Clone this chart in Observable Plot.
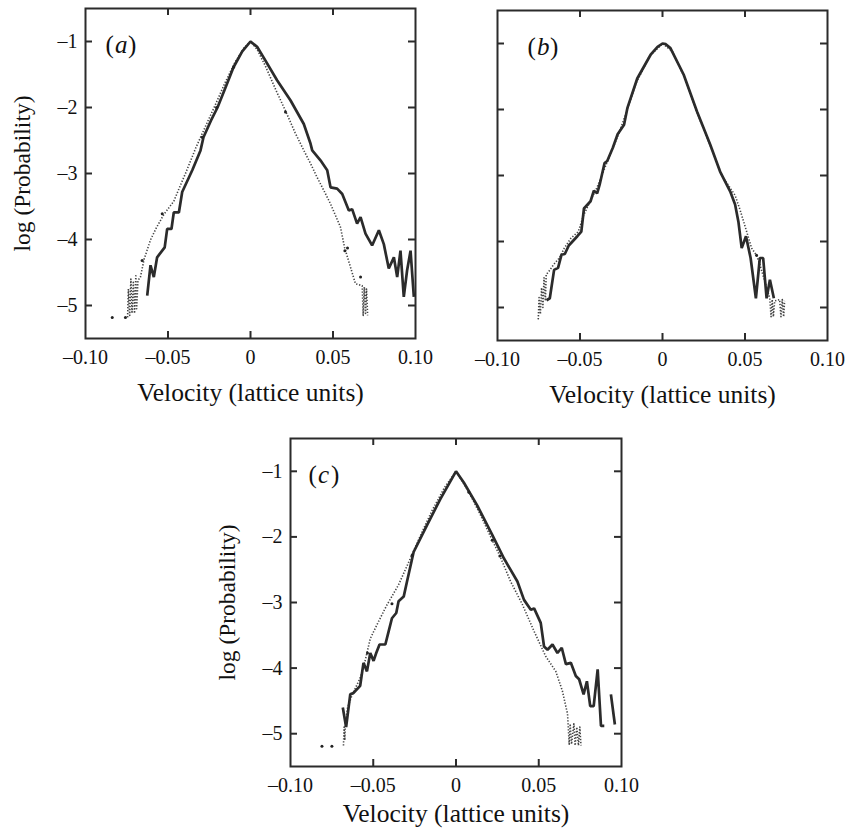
<!DOCTYPE html>
<html><head><meta charset="utf-8">
<script src="https://cdn.jsdelivr.net/npm/d3@7"></script>
<script src="https://cdn.jsdelivr.net/npm/@observablehq/plot@0.6"></script>
<style>
body{margin:0;background:#fff;}
#root{position:relative;width:850px;height:833px;background:#fff;overflow:hidden;}
#root > div{position:absolute;}
#root svg{overflow:visible;}
</style></head><body><div id="root"></div>
<script>
// ---- axis ticks ----
const xTicks = [-0.1, -0.05, 0, 0.05, 0.1];
const xTickLabels = ["\u20130.10", "\u20130.05", "0", "0.05", "0.10"];
const yTicks = [-1, -2, -3, -4, -5];
const yTickLabels = ["\u20131", "\u20132", "\u20133", "\u20134", "\u20135"];
const xLabel = "Velocity (lattice units)";
const yLabel = "log (Probability)";
const panelLetters = ["a", "b", "c"];

// ---- panel (a) ----
const aSolid = [[-0.0626,-4.85],[-0.0606,-4.39],[-0.0586,-4.57],[-0.0566,-4.27],[-0.052,-4.12],[-0.0505,-3.84],[-0.0479,-3.84],[-0.0465,-3.59],[-0.0434,-3.59],[-0.0414,-3.28],[-0.0353,-2.95],[-0.0303,-2.65],[-0.0285,-2.45],[-0.024,-2.2],[-0.020,-2.0],[-0.0155,-1.72],[-0.0103,-1.39],[-0.005,-1.15],[0,-1.0],[0.004,-1.08],[0.0079,-1.24],[0.0162,-1.59],[0.0242,-1.89],[0.0323,-2.25],[0.0364,-2.55],[0.0374,-2.65],[0.0424,-2.80],[0.0465,-2.95],[0.0485,-3.21],[0.0525,-3.23],[0.0556,-3.31],[0.0596,-3.56],[0.0616,-3.54],[0.0646,-3.76],[0.0667,-3.66],[0.0697,-3.91],[0.0737,-4.09],[0.0778,-3.86],[0.0808,-4.07],[0.0838,-4.44],[0.0869,-4.27],[0.0889,-4.57],[0.0909,-4.17],[0.0929,-4.87],[0.0949,-4.47],[0.097,-4.17],[0.099,-4.87]];
const aDotted = [[-0.0745,-5.18],[-0.074,-4.75],[-0.0732,-5.15],[-0.0725,-4.6],[-0.0718,-5.1],[-0.071,-4.65],[-0.0703,-5.12],[-0.0695,-4.55],[-0.069,-5.05],[-0.0682,-4.62],[-0.0667,-4.57],[-0.0645,-4.3],[-0.0605,-4.0],[-0.057,-3.82],[-0.0525,-3.62],[-0.0465,-3.42],[-0.042,-3.15],[-0.0394,-3.0],[-0.0333,-2.62],[-0.027,-2.27],[-0.0215,-1.97],[-0.0155,-1.63],[-0.0095,-1.32],[-0.004,-1.1],[0,-1.0],[0.004,-1.12],[0.009,-1.37],[0.016,-1.77],[0.0212,-2.05],[0.027,-2.38],[0.0323,-2.65],[0.0364,-2.85],[0.0404,-3.06],[0.0445,-3.26],[0.0485,-3.46],[0.0545,-3.81],[0.057,-4.12],[0.0606,-4.42],[0.0636,-4.67],[0.0677,-4.7],[0.0683,-5.15],[0.069,-4.72],[0.0697,-5.12],[0.0703,-4.75],[0.071,-5.15]];
const aDots = [[-0.0103,-1.39],[-0.0206,-2.0],[-0.0293,-2.45],[-0.0535,-3.61],[-0.0657,-4.32],[0.0212,-2.07],[0.0572,-4.17],[0.0588,-4.13],[0.0667,-4.57],[-0.0838,-5.18],[-0.0758,-5.18]];

// ---- panel (b) ----
const bSolid = [[-0.0703,-4.89],[-0.0683,-4.86],[-0.0657,-4.43],[-0.0633,-4.40],[-0.0612,-4.20],[-0.0592,-4.19],[-0.0568,-4.06],[-0.0516,-3.92],[-0.0492,-3.85],[-0.0476,-3.50],[-0.0436,-3.39],[-0.0416,-3.23],[-0.0396,-3.27],[-0.0381,-3.14],[-0.0351,-2.81],[-0.0335,-2.78],[-0.0301,-2.58],[-0.0273,-2.38],[-0.0233,-2.23],[-0.0213,-1.98],[-0.0153,-1.53],[-0.0072,-1.17],[-0.003,-1.05],[0,-1.0],[0.002,-1.01],[0.0048,-1.07],[0.0128,-1.47],[0.0209,-2.03],[0.0289,-2.53],[0.0349,-2.94],[0.041,-3.24],[0.044,-3.44],[0.046,-3.70],[0.048,-4.10],[0.0506,-3.92],[0.0534,-4.25],[0.0566,-4.86],[0.059,-4.25],[0.061,-4.25],[0.0631,-4.86],[0.0651,-4.58],[0.0675,-4.86]];
const bDotted = [[-0.0753,-5.18],[-0.0748,-4.85],[-0.074,-5.1],[-0.0733,-4.7],[-0.0725,-5.0],[-0.0718,-4.55],[-0.071,-4.9],[-0.0705,-4.5],[-0.0688,-4.45],[-0.066,-4.35],[-0.0625,-4.25],[-0.0595,-4.1],[-0.0555,-3.95],[-0.051,-3.85],[-0.0478,-3.6],[-0.044,-3.4],[-0.040,-3.2],[-0.036,-2.95],[-0.032,-2.7],[-0.027,-2.4],[-0.022,-2.05],[-0.016,-1.6],[-0.008,-1.2],[0,-1.0],[0.006,-1.12],[0.013,-1.5],[0.021,-2.05],[0.029,-2.55],[0.036,-3.0],[0.044,-3.3],[0.047,-3.52],[0.051,-3.85],[0.054,-4.10],[0.057,-4.21],[0.059,-4.35],[0.062,-4.6],[0.065,-4.86],[0.0658,-5.14],[0.0665,-4.88],[0.0672,-5.14],[0.068,-4.9],[0.071,-4.88],[0.0718,-5.14],[0.0726,-4.88],[0.0734,-5.14],[0.074,-4.9]];
const bDots = [[0.057,-4.21]];

// ---- panel (c) ----
const cSolid = [[-0.0684,-4.60],[-0.0664,-4.90],[-0.0639,-4.40],[-0.062,-4.38],[-0.0579,-4.27],[-0.0559,-3.92],[-0.0538,-4.05],[-0.0518,-3.77],[-0.0498,-3.89],[-0.0482,-3.77],[-0.0462,-3.64],[-0.0427,-3.64],[-0.0407,-3.44],[-0.0387,-3.24],[-0.0361,-3.16],[-0.0347,-2.98],[-0.0316,-2.91],[-0.0296,-2.68],[-0.0256,-2.23],[-0.0175,-1.82],[-0.0094,-1.42],[0,-1.0],[0.0047,-1.17],[0.0128,-1.52],[0.0219,-1.97],[0.029,-2.33],[0.0371,-2.68],[0.0411,-2.96],[0.0452,-3.11],[0.0472,-3.09],[0.0512,-3.31],[0.0532,-3.67],[0.0553,-3.72],[0.0583,-3.64],[0.0613,-3.77],[0.0639,-3.69],[0.0664,-3.94],[0.0694,-3.92],[0.0724,-4.12],[0.0744,-4.17],[0.0771,-4.40],[0.0791,-4.20],[0.0811,-4.58],[0.0832,-4.58],[0.0856,-4.02],[0.0876,-4.88],[0.0896,-4.88],[NaN,NaN],[0.0936,-4.40],[0.096,-4.86]];
const cDotted = [[-0.068,-5.18],[-0.0676,-4.9],[-0.0672,-5.1],[-0.0668,-4.85],[-0.0655,-4.6],[-0.0629,-4.42],[-0.0579,-4.15],[-0.055,-3.9],[-0.0518,-3.55],[-0.047,-3.3],[-0.042,-3.05],[-0.0347,-2.73],[-0.0285,-2.38],[-0.0215,-1.98],[-0.0145,-1.6],[-0.007,-1.25],[0,-1.0],[0.005,-1.2],[0.0078,-1.32],[0.0145,-1.65],[0.0219,-2.05],[0.0265,-2.29],[0.033,-2.68],[0.0401,-3.03],[0.0472,-3.44],[0.0542,-3.82],[0.0603,-4.05],[0.0643,-4.35],[0.0674,-4.70],[0.0684,-5.16],[0.069,-4.85],[0.0698,-5.16],[0.0712,-4.85],[0.072,-5.18],[0.073,-4.9],[0.074,-5.18],[0.0748,-4.9],[0.0755,-5.18]];
const cDots = [[-0.0265,-2.28],[-0.0387,-3.02],[-0.0535,-3.77],[0.0078,-1.32],[0.0219,-2.05],[0.0265,-2.29],[-0.081,-5.19],[-0.075,-5.19]];

const FONT = "'Liberation Serif', 'Times New Roman', serif";
const INK = "#2b2b2b";

function panel(o) {
  const {solid, dotted, dots, letter, showY, left, top, width, height, ml, mr, mt, mb, xLabelDy} = o;
  const fw = width - ml - mr, fh = height - mt - mb;
  const inner = xTicks.slice(1, -1);
  const lab = {frameAnchor: "top-left", dy: 27, textAnchor: "start", lineAnchor: "top", fontSize: 25, fill: "#111"};
  const marks = [
    Plot.line(dotted, {x: d => d[0], y: d => d[1], stroke: "#444", strokeWidth: 1.6, strokeDasharray: "1.3,1.7", strokeLinecap: "butt"}),
    Plot.line(solid, {x: d => d[0], y: d => d[1], stroke: INK, strokeWidth: 2.7, strokeLinejoin: "miter", strokeLinecap: "butt"}),
    Plot.dot(dots, {x: d => d[0], y: d => d[1], r: 1.5, fill: "#222", stroke: null}),
    Plot.ruleX(inner, {insetTop: fh - 7, stroke: INK, strokeWidth: 2}),
    Plot.ruleX(inner, {insetBottom: fh - 7, stroke: INK, strokeWidth: 2}),
    Plot.ruleY(yTicks, {insetRight: fw - 7, stroke: INK, strokeWidth: 2}),
    Plot.ruleY(yTicks, {insetLeft: fw - 7, stroke: INK, strokeWidth: 2}),
    Plot.frame({stroke: INK, strokeWidth: 2}),
    Plot.axisX(xTicks, {tickSize: 0, tickPadding: 11, fontSize: 20, fill: "#111", tickFormat: d => xTickLabels[xTicks.indexOf(d)], label: null}),
    Plot.text([xLabel], {frameAnchor: "bottom", dy: xLabelDy, lineAnchor: "middle", textAnchor: "middle", fontSize: 25.5, fill: "#111"}),
    Plot.text(["("], {...lab, dx: o.ldx}),
    Plot.text([letter], {...lab, dx: o.ldx + 9.5, fontStyle: "italic"}),
    Plot.text([")"], {...lab, dx: o.ldx + 22.5})
  ];
  if (showY) {
    marks.push(Plot.axisY(yTicks, {tickSize: 0, tickPadding: 8, fontSize: 20, fill: "#111", tickFormat: d => yTickLabels[yTicks.indexOf(d)], label: null}));
    marks.push(Plot.text([yLabel], {frameAnchor: "left", dx: -63, rotate: -90, textAnchor: "middle", lineAnchor: "middle", fontSize: 23.5, fill: "#111"}));
  }
  const svg = Plot.plot({
    width, height,
    marginLeft: ml, marginRight: mr, marginTop: mt, marginBottom: mb,
    x: {domain: [-0.1, 0.1], axis: null},
    y: {domain: [-5.5, -0.5], axis: null},
    style: {fontFamily: FONT, fontSize: "20px", background: "transparent", color: "#111"},
    marks
  });
  const div = document.createElement("div");
  div.style.left = left + "px";
  div.style.top = top + "px";
  div.appendChild(svg);
  document.getElementById("root").appendChild(div);
}

panel({solid: aSolid, dotted: aDotted, dots: aDots, letter: panelLetters[0], showY: true,
  left: 0, top: 0, width: 425, height: 410, ml: 85, mr: 10, mt: 8, mb: 72, xLabelDy: 54, ldx: 20});
panel({solid: bSolid, dotted: bDotted, dots: bDots, letter: panelLetters[1], showY: false,
  left: 425, top: 0, width: 425, height: 410, ml: 72, mr: 23, mt: 10, mb: 70, xLabelDy: 54, ldx: 30});
panel({solid: cSolid, dotted: cDotted, dots: cDots, letter: panelLetters[2], showY: true,
  left: 200, top: 420, width: 440, height: 413, ml: 90, mr: 19, mt: 18, mb: 67, xLabelDy: 47, ldx: 18});
</script>
</body></html>
